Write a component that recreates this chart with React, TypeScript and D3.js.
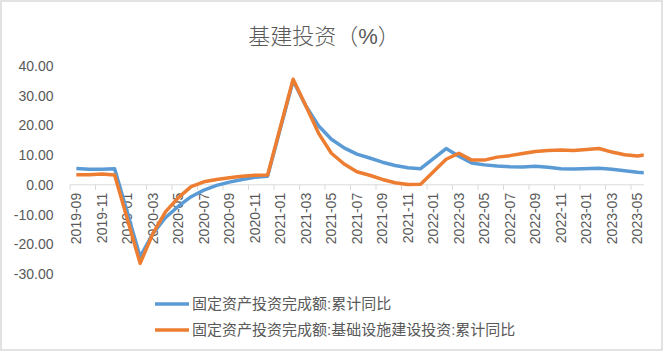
import * as d3 from "d3"

// categories: monthly, January has no cumulative figure (Jan-Feb reported together)
const months = [
  "2019-09", "2019-10", "2019-11", "2019-12",
  "2020-01", "2020-02", "2020-03", "2020-04", "2020-05", "2020-06", "2020-07", "2020-08", "2020-09", "2020-10", "2020-11", "2020-12",
  "2021-01", "2021-02", "2021-03", "2021-04", "2021-05", "2021-06", "2021-07", "2021-08", "2021-09", "2021-10", "2021-11", "2021-12",
  "2022-01", "2022-02", "2022-03", "2022-04", "2022-05", "2022-06", "2022-07", "2022-08", "2022-09", "2022-10", "2022-11", "2022-12",
  "2023-01", "2023-02", "2023-03", "2023-04", "2023-05", "2023-06",
]
const lastAxisMonth = "2023-05"

const fixedAsset: (number | null)[] = [
  5.5, 5.2, 5.2, 5.4,
  null, -24.2, -16.4, -11.0, -7.2, -4.0, -1.8, -0.2, 0.9, 1.8, 2.5, 2.9,
  null, 35.0, 26.5, 19.8, 15.3, 12.4, 10.3, 9.0, 7.6, 6.5, 5.7, 5.4,
  null, 12.2, 9.6, 7.3, 6.7, 6.3, 6.1, 6.0, 6.2, 5.9, 5.4, 5.3,
  null, 5.6, 5.2, 4.7, 4.2, 3.9,
]
const infra: (number | null)[] = [
  3.4, 3.4, 3.6, 3.3,
  null, -26.4, -16.4, -9.0, -4.3, -0.6, 1.0, 1.8, 2.4, 2.9, 3.2, 3.3,
  null, 35.5, 26.5, 17.3, 10.6, 7.0, 4.4, 3.2, 1.8, 0.7, 0.1, 0.2,
  null, 8.6, 10.6, 8.3, 8.3, 9.3, 9.8, 10.5, 11.2, 11.5, 11.7, 11.5,
  null, 12.2, 11.0, 10.1, 9.7, 10.3,
]

const yTicks = [40, 30, 20, 10, 0, -10, -20, -30]
const seriesNames = ["固定资产投资完成额:累计同比", "固定资产投资完成额:基础设施建设投资:累计同比"]
const seriesColors = ["#5B9BD5", "#ED7D31"]
const title = "基建投资（%）"

const W = 664
const H = 352
const plotLeft = 70
const plotRight = 643.75
const textColor = "#595959"
const gridColor = "#d9d9d9"
const font = "'Liberation Sans', 'Noto Sans CJK SC', sans-serif"

export default function App() {
  const axisCount = months.indexOf(lastAxisMonth) + 1
  const step = (plotRight - plotLeft) / axisCount
  const x = d3
    .scaleBand<string>()
    .domain(months)
    .range([plotLeft, plotLeft + step * months.length])
    .padding(0)
  const y = d3.scaleLinear().domain([-30, 40]).range([274.05, 65.8])
  const y0 = y(0)

  const cx = (m: string) => (x(m) || 0) + x.bandwidth() / 2

  const line = d3
    .line<{ m: string; v: number }>()
    .x((d) => cx(d.m))
    .y((d) => y(d.v))

  // January is missing: connect Dec to Feb directly
  const toPoints = (vals: (number | null)[]) =>
    months
      .map((m, i) => ({ m, v: vals[i] }))
      .filter((d) => d.v !== null) as { m: string; v: number }[]

  const series = [fixedAsset, infra].map(toPoints)

  const tickMonths = months.slice(0, axisCount).filter((_, i) => i % 2 === 0)

  return (
    <div style={{ position: "fixed", left: 0, top: 0 }}>
      <svg width={W} height={H} style={{ display: "block", fontFamily: font }}>
        <defs>
          <clipPath id="plot-clip">
            <rect x={plotLeft} y={40} width={plotRight - plotLeft} height={250} />
          </clipPath>
        </defs>
        <rect x={1} y={1} width={661} height={349} fill="#fff" stroke={gridColor} strokeWidth={1.5} />

        <text x={324} y={44} textAnchor="middle" fontSize={22} fontWeight={300} fill={textColor}>
          {title}
        </text>

        {/* y labels */}
        {yTicks.map((t) => (
          <text key={t} x={53.5} y={y(t)} dy="0.36em" textAnchor="end" fontSize={14} fill={textColor}>
            {t.toFixed(2)}
          </text>
        ))}

        {/* x axis */}
        <line x1={plotLeft} x2={plotRight} y1={y0} y2={y0} stroke={gridColor} strokeWidth={1} />
        {tickMonths.map((m) => (
          <line key={"t" + m} x1={x(m)} x2={x(m)} y1={y0} y2={y0 + 5} stroke={gridColor} strokeWidth={1} />
        ))}
        {tickMonths.map((m) => (
          <text
            key={"l" + m}
            transform={`translate(${cx(m)},${y0 + 8}) rotate(-90)`}
            textAnchor="end"
            dy="0.35em"
            fontSize={14}
            fill={textColor}
          >
            {m}
          </text>
        ))}

        {/* lines */}
        <g clipPath="url(#plot-clip)">
          {series.map((pts, i) => (
            <path
              key={i}
              d={line(pts) || ""}
              fill="none"
              stroke={seriesColors[i]}
              strokeWidth={3.5}
              strokeLinejoin="round"
            />
          ))}
        </g>

        {/* legend */}
        {seriesNames.map((name, i) => (
          <g key={name} transform={`translate(155,${304 + i * 26})`}>
            <line x1={0} x2={34} y1={0} y2={0} stroke={seriesColors[i]} strokeWidth={3.5} />
            <text x={37} y={0} dy="0.36em" fontSize={15} fill={textColor}>
              {name}
            </text>
          </g>
        ))}
      </svg>
    </div>
  )
}
